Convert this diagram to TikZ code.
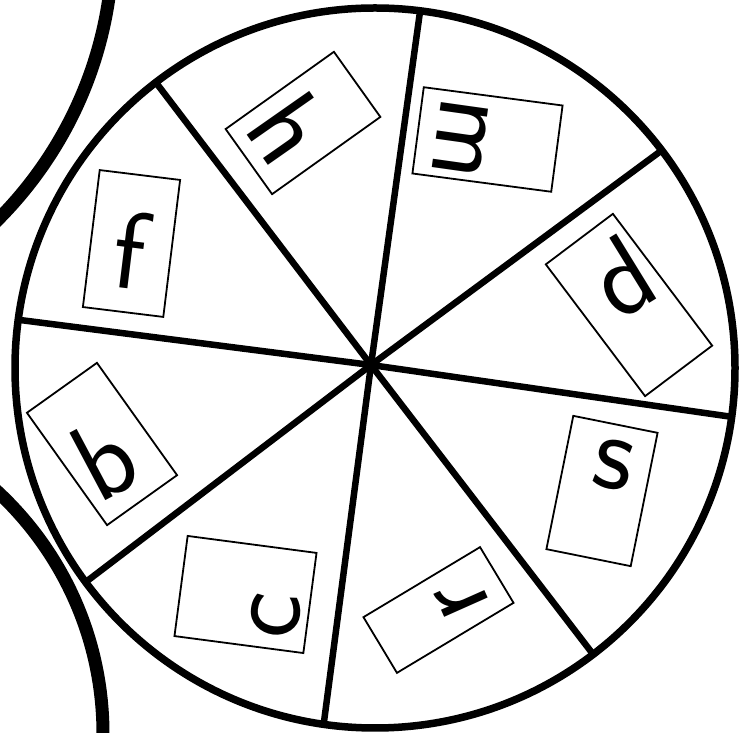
\documentclass[tikz,border=0pt]{standalone}
\usepackage{tikz}
\tikzstyle{rim} = [draw=black, line width=7.5pt]
\tikzstyle{spoke} = [draw=black, line width=6.5pt, line cap=round]
\tikzstyle{neighbour} = [draw=black, line width=13pt]
\tikzstyle{card} = [rectangle, draw=black, line width=1.8pt, inner sep=0pt]
\tikzstyle{letter} = [inner sep=0pt, font=\fontsize{110}{110}\selectfont\sffamily]

\begin{document}
\begin{tikzpicture}[x=1pt, y=1pt]
  \useasboundingbox (0,0) rectangle (752,733);
  \clip (0,0) rectangle (752,733);

  % neighbouring wheels, cut off at the left edge
  \draw[neighbour] (-282,792) circle[radius=395];
  \draw[neighbour] (-228,-1) circle[radius=331];

  % the wheel
  \coordinate (rimc) at (375,365);
  \coordinate (hub) at (371,368);
  \draw[rim] (rimc) circle[radius=360];
  \foreach \a in {82.8, 37.2, -7.8, -52.7, -98.2, -143.5, 172.3, 127.5}
    \draw[spoke] (hub) -- ([shift={(\a:360)}]rimc);
  \fill (hub) circle[radius=7];

  % cards
  \node[card, minimum width=81pt, minimum height=138pt, rotate=-7]
    (fcard) at (131.5,489.5) {};
  \node[card, minimum width=133pt, minimum height=80pt, rotate=35.5]
    (hcard) at (303,610) {};
  \node[card, minimum width=140pt, minimum height=87pt, rotate=-7.5]
    (mcard) at (487.5,593.5) {};
  \node[card, minimum width=84pt, minimum height=165pt, rotate=37]
    (dcard) at (629,428) {};
  \node[card, minimum width=86pt, minimum height=136pt, rotate=-11.4]
    (scard) at (602,242) {};
  \node[card, minimum width=136pt, minimum height=65pt, rotate=31]
    (rcard) at (438.5,123) {};
  \node[card, minimum width=130pt, minimum height=101pt, rotate=-7.5]
    (ccard) at (245.5,138.5) {};
  \node[card, minimum width=86pt, minimum height=138pt, rotate=35.5]
    (bcard) at (102,289) {};

  % letters
  \node[letter, rotate=-7]   (fletter) at (130,483) {f};
  \node[letter, rotate=-55]  (hletter) at (289,605) {h};
  \node[letter, rotate=-98]  (mletter) at (461,595) {m};
  \node[letter, rotate=31.6] (dletter) at (621,457) {d};
  \node[letter, rotate=-11]  (sletter) at (613,268) {s};
  \node[letter, rotate=114]  (rletter) at (462,134) {r};
  \node[letter, rotate=83]   (cletter) at (276,117) {c};
  \node[letter, rotate=28]   (bletter) at (104,274) {b};
\end{tikzpicture}
\end{document}
